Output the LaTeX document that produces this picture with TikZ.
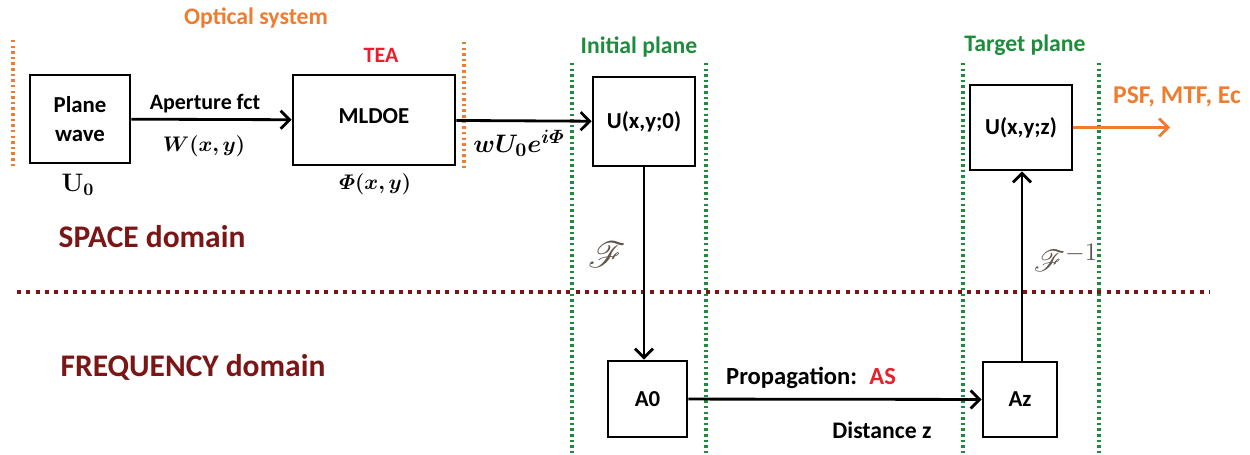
\documentclass[tikz,border=0pt]{standalone}
\usepackage[no-math]{fontspec}
\setmainfont{Carlito}
\usepackage{amsmath}
\usepackage{bm}
\usepackage{mathrsfs}
\usetikzlibrary{arrows.meta}
\definecolor{optorange}{RGB}{237,125,49}
\definecolor{teared}{RGB}{232,32,44}
\definecolor{planegreen}{RGB}{30,140,60}
\definecolor{domainred}{RGB}{122,22,22}
\definecolor{fourgray}{RGB}{95,85,75}

\tikzset{
  blockbox/.style={draw, line width=1.6pt, align=center, inner sep=0pt,
    font=\fontsize{13}{15}\selectfont\bfseries},
  flow/.style={line width=1.6pt, -{Straight Barb[length=1.8mm,width=3.6mm]}},
  lbl/.style={font=\fontsize{13.5}{16}\selectfont\bfseries},
  mathlbl/.style={font=\fontsize{13}{15}\selectfont},
  domainlbl/.style={font=\fontsize{17.9}{21}\selectfont\bfseries, text=domainred},
  orangedots/.style={optorange, line width=1.8pt, dash pattern=on 1.4pt off 1.8pt},
  greendots/.style={planegreen, line width=1.8pt, dash pattern=on 1.4pt off 1.8pt},
  splitdots/.style={domainred, line width=2.4pt, dash pattern=on 2.3pt off 3pt}
}

\begin{document}
\begin{tikzpicture}[x=0.02cm, y=-0.02cm]
    \useasboundingbox (0,0) rectangle (1250,454);

    % Optical system
    \node[lbl, text=optorange] (optsys) at (256,18) {Optical system};
    \draw[orangedots] (13,40) -- (13,168);
    \draw[orangedots] (464,42) -- (464,168);

    \node[blockbox, minimum width=2cm, minimum height=1.76cm] (pw) at (80,119) {Plane\\[2pt]wave};
    \node[font=\fontsize{14}{16}\selectfont] (u0) at (78,185) {$\mathbf{U_0}$};

    \node[lbl, font=\fontsize{12.5}{15}\selectfont\bfseries, text=teared] (tea) at (381,55) {TEA};
    \node[blockbox, minimum width=3.24cm, minimum height=1.8cm] (mldoe) at (374,120) {\raisebox{4pt}{MLDOE}};
    \node[mathlbl] (phi) at (375,184) {$\boldsymbol{\varPhi(x,y)}$};

    \draw[flow] (pw) -- (mldoe);
    \node[lbl, font=\fontsize{12.5}{15}\selectfont\bfseries] (aperture) at (205,104) {Aperture fct};
    \node[mathlbl] (wfct) at (204,146) {$\boldsymbol{W(x,y)}$};

    % Initial plane
    \node[lbl, text=planegreen] (initial) at (639,47) {Initial plane};
    \draw[greendots] (572,63) -- (572,454);
    \draw[greendots] (706,63) -- (706,454);
    \node[blockbox, minimum width=2.04cm, minimum height=1.78cm] (ux0) at (644,121.5) {U(x,y;0)};
    \draw[flow] (mldoe) -- (ux0);
    \node[font=\fontsize{15}{17}\selectfont] (field) at (519,143) {$\boldsymbol{wU_0e^{i\varPhi}}$};

    % Target plane
    \node[lbl, text=planegreen] (target) at (1025,45) {Target plane};
    \draw[greendots] (963,63) -- (963,454);
    \draw[greendots] (1099,63) -- (1099,454);
    \node[blockbox, minimum width=2.04cm, minimum height=1.7cm] (uxz) at (1021,127.5) {U(x,y;z)};
    \coordinate (results) at (1170,127.5);
    \draw[flow, optorange] (uxz) -- (results);
    \node[lbl, font=\fontsize{14.6}{17}\selectfont\bfseries, text=optorange] (psf) at (1177,97) {PSF, MTF, Ec};

    % Domains
    \draw[splitdots] (17,292) -- (1210,292);
    \node[domainlbl] (space) at (152,237) {SPACE domain};
    \node[domainlbl] (freq) at (193,367) {FREQUENCY domain};

    % Frequency side
    \node[blockbox, minimum width=1.58cm, minimum height=1.52cm] (a0) at (647.5,399) {A0};
    \node[blockbox, minimum width=1.48cm, minimum height=1.5cm] (az) at (1020,399.5) {Az};
    \draw[flow] (ux0.south -| 644,0) -- (644,0 |- a0.north);
    \draw[flow] (1022,0 |- az.north) -- (1022,0 |- uxz.south);
    \node[text=fourgray, font=\fontsize{20}{22}\selectfont] (fwd) at (607,255) {$\mathscr{F}$};
    \node[text=fourgray, font=\fontsize{19}{21}\selectfont] (inv) at (1066,258) {$\mathscr{F}^{-1}$};

    \draw[flow] (a0) -- (az);
    \node[lbl, font=\fontsize{14}{16}\selectfont\bfseries, anchor=west] (prop) at (720,378) {Propagation:\enspace\textcolor{teared}{AS}};
    \node[lbl] (dist) at (882,430) {Distance z};
\end{tikzpicture}
\end{document}
